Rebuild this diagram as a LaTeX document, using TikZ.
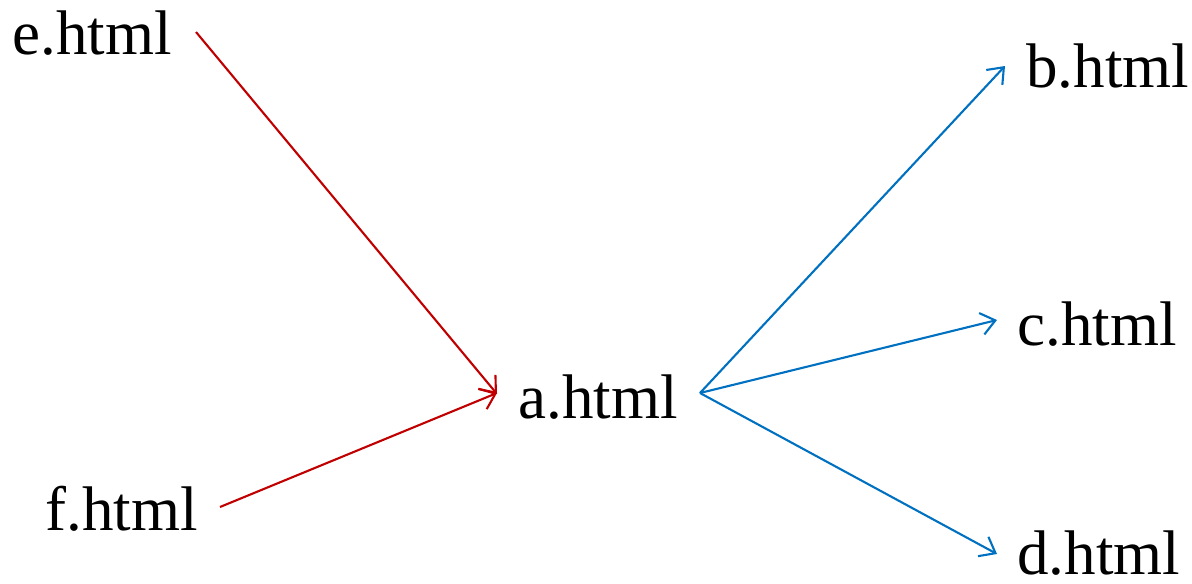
\documentclass[tikz,border=0pt]{standalone}
\usepackage{fontspec}
\setmainfont{Liberation Serif}
\usetikzlibrary{arrows.meta}
\definecolor{redarrow}{HTML}{C00000}
\definecolor{bluearrow}{HTML}{0070C0}
\begin{document}
\begin{tikzpicture}[x=0.5pt,y=-0.5pt,
  lbl/.style={anchor=base west,inner sep=0pt,font=\fontsize{31.5}{38}\selectfont},
  link/.style={line width=1.05pt,-{Straight Barb[length=7pt,width=11pt,line width=1.05pt]}},
  inlink/.style={link,draw=redarrow},
  outlink/.style={link,draw=bluearrow}]
\useasboundingbox (0,0) rectangle (1192,583);
\node[lbl] (e) at (12,55) {e.html};
\node[lbl] (f) at (45,530) {f.html};
\node[lbl] (a) at (518,418) {a.html};
\node[lbl] (b) at (1026,88) {b.html};
\node[lbl] (c) at (1017,345) {c.html};
\node[lbl] (d) at (1017,574) {d.html};
\coordinate (eout) at (196,32);
\coordinate (fout) at (220,507);
\coordinate (ain1) at (497,394);
\coordinate (ain2) at (497,393);
\coordinate (aout) at (700,393);
\coordinate (bin) at (1005,66);
\coordinate (cin) at (997,320);
\coordinate (din) at (997,554);
\draw[inlink] (eout) -- (ain1);
\draw[inlink] (fout) -- (ain2);
\draw[outlink] (aout) -- (bin);
\draw[outlink] (aout) -- (cin);
\draw[outlink] (aout) -- (din);
\end{tikzpicture}
\end{document}
